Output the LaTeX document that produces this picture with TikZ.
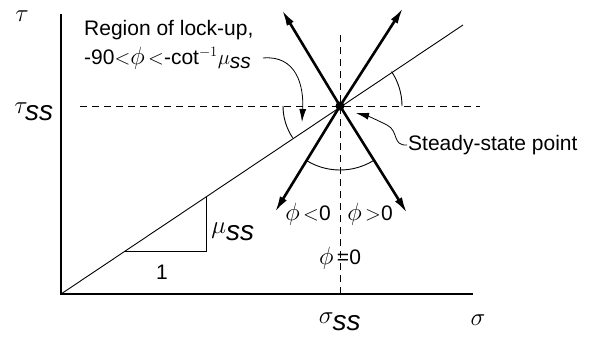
\documentclass[tikz,border=0pt]{standalone}
\usepackage{fontspec}
\setmainfont{Liberation Sans}
\usetikzlibrary{arrows.meta,calc}

\begin{document}
\begin{tikzpicture}[x=1pt,y=-1pt,
 font=\fontsize{21}{29}\selectfont,
 ax/.style={line width=1.7pt,black},
 fline/.style={line width=0.9pt,black},
 dsh/.style={line width=0.9pt,dash pattern=on 7pt off 5pt},
 dir/.style={-{Latex[length=16pt,width=8pt]},line width=2.6pt},
 ptr/.style={-{Latex[length=13pt,width=7pt]},line width=0.8pt},
 lbl/.style={inner sep=1pt},
 gk/.style={inner sep=1pt,font=\fontsize{28}{30}\selectfont},
 pt/.style={circle,fill=black,inner sep=0pt,minimum size=9pt}]
\useasboundingbox (0,0) rectangle (596,343);
% axes and points
\coordinate (O) at (61,294);
\coordinate (Ytop) at (61,14);
\coordinate (Xend) at (473,294);
\coordinate (S) at (340,106);
\coordinate (Fend) at (463,25);
\draw[ax] (Ytop)--(O)--(Xend);
\draw[dsh] (80,106)--(480,106);
\draw[dsh] (340,35)--(340,294);
% friction line and slope triangle
\draw[fline] (O)--(Fend);
\coordinate (T1) at (125,251);
\coordinate (T2) at (206,251);
\coordinate (T3) at (206,197);
\draw[fline] (T1)--(T2)--(T3);
% directions through the steady-state point
\coordinate (A1) at (282,10);
\coordinate (A2) at (403,8);
\coordinate (A3) at (275,212);
\coordinate (A4) at (407,213);
\foreach \tip in {A1,A2,A3,A4}
 \draw[dir] (S)--(\tip);
\node[pt] (P) at (S) {};
% angles
\draw[fline] ([shift=(58.4:64)]S) arc (58.4:122:64);
\draw[fline] ([shift=(180:57)]S) arc (180:146.2:57);
\draw[fline] ([shift=(0:62)]S) arc (0:-33.7:62);
% labels
\node[gk] (tau) at (22,16) {$\tau$};
\node[gk] (tss) at (34,112) {$\tau_{\textit{ss}}$};
\node[gk] (sss) at (340,322) {$\sigma_{\textit{ss}}$};
\node[gk] (sig) at (478,320) {$\sigma$};
\node[gk] (mu) at (233,232) {$\mu_{\textit{ss}}$};
\node[lbl] (one) at (162,272) {1};
\node[lbl,anchor=north west,align=left] (lock) at (83,19)
 {Region of lock-up,\\-90$<$\fontsize{24}{29}\selectfont$\phi$\fontsize{21}{29}\selectfont$\,<$-cot$^{-1}\mu_{\textit{ss}}$};
\node[lbl,anchor=west] (ssp) at (407,145) {Steady-state point};
\node[lbl] (neg) at (308,214) {\fontsize{24}{29}\selectfont$\phi$\fontsize{21}{29}\selectfont\,$<$0};
\node[lbl] (pos) at (370,214) {\fontsize{24}{29}\selectfont$\phi$\fontsize{21}{29}\selectfont\,$>$0};
\node[lbl] (zero) at (340,258) {\fontsize{24}{29}\selectfont$\phi$\fontsize{21}{29}\selectfont\,=0};
% pointers
\draw[ptr] (263,58) .. controls (296,55) and (304,85) .. (302,122);
\draw[ptr] (ssp.west) .. controls (392,146) and (399,131) .. (387,125)
 .. controls (377,120) and (368,116) .. (356,113);
\end{tikzpicture}
\end{document}
